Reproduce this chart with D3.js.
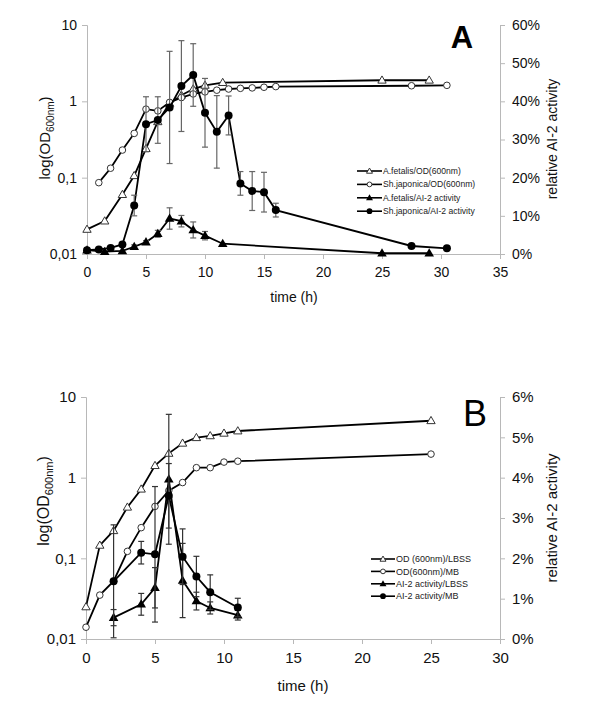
<!DOCTYPE html>
<html><head><meta charset="utf-8">
<script src="https://cdn.jsdelivr.net/npm/d3@7"></script>
<style>
body{margin:0;background:#fff;}
svg{display:block;font-family:"Liberation Sans",Arial,sans-serif;}
</style></head>
<body>
<svg id="chart" width="600" height="718"></svg>
<script>
// ---------- Panel A data ----------
const fetalisOD_t = [0,1.5,3,4,5,6,7,8,9,10,11.5,25,29];
const fetalisOD   = [0.021,0.027,0.06,0.106,0.24,0.54,0.94,1.2,1.45,1.62,1.76,1.89,1.89];
const japonicaOD_t = [1,2,3,4,5,6,7,8,9,10,11,12,13,14,15,16,27.5,30.5];
const japonicaOD   = [0.086,0.133,0.23,0.38,0.79,0.75,0.97,1.12,1.25,1.33,1.4,1.45,1.48,1.5,1.53,1.56,1.6,1.62];
const fetalisAI_t   = [0,1.5,3,4,5,6,7,8,9,10,11.5,25,29];
const fetalisAI     = [1.0,0.6,0.8,1.9,3.1,5.3,9.3,8.6,6.3,4.8,2.7,0.2,0.2];
const fetalisAI_err = [0,0,0,0.5,0.4,0.9,2.8,1.5,2.1,1.1,0,0,0];
const japonicaAI_t   = [0,1,2,3,4,5,6,7,8,9,10,11,12,13,14,15,16,27.5,30.5];
const japonicaAI     = [1.0,1.2,1.6,2.5,12.7,34,35.1,38.4,44,46.9,37,32,36.3,18.5,16.5,16.2,11.5,2.1,1.5];
const japonicaAI_err = [0,0,0,0,2.7,7.2,6.1,14.7,11.9,8.2,9,9.5,5.1,3.1,5.1,5.2,1.8,0,0];
const legendA = ["A.fetalis/OD(600nm)","Sh.japonica/OD(600nm)","A.fetalis/AI-2 activity","Sh.japonica/AI-2 activity"];

// ---------- Panel B data ----------
const lbssOD_t = [0,1,2,3,4,5,6,7,8,9,10,11,25];
const lbssOD   = [0.025,0.145,0.22,0.43,0.72,1.41,2.0,2.67,3.13,3.3,3.55,3.79,5.08];
const mbOD_t   = [0,1,2,3,4,5,6,7,8,9,10,11,25];
const mbOD     = [0.014,0.035,0.052,0.122,0.24,0.44,0.69,0.87,1.33,1.33,1.56,1.6,1.96];
const lbssAI_t   = [2,4,5,6,7,8,9,11];
const lbssAI     = [0.53,0.86,1.27,3.96,1.45,0.94,0.77,0.59];
const lbssAI_err = [0.2,0.27,0.5,1.61,0.92,0.22,0.15,0.12];
const mbAI_t   = [2,4,5,6,7,8,9,11];
const mbAI     = [1.43,2.14,2.1,3.55,2.04,1.55,1.16,0.78];
const mbAI_err = [1.4,0.28,1.68,0.8,0.69,0.5,0.43,0.23];
const legendB = ["OD (600nm)/LBSS","OD(600nm)/MB","AI-2 activity/LBSS","AI-2 activity/MB"];

// ---------- Axis tick labels ----------
const logTicks = [0.01,0.1,1,10];
const logTickLabels = ["0,01","0,1","1","10"];
const xTicksA = [0,5,10,15,20,25,30,35];
const xTicksB = [0,5,10,15,20,25,30];
const rightTicksA = [0,10,20,30,40,50,60];
const rightTicksB = [0,1,2,3,4,5,6];

const svg = d3.select("#chart");
const zip = (t,v,e) => t.map((x,i)=>({t:x,v:v[i],e:e?e[i]:0}));

function drawMarker(sel, cx, cy, m, k){
  k = k || 1;
  if(m==="openTri") sel.append("path").attr("d",d3.symbol(d3.symbolTriangle,30*k*k)()).attr("transform",`translate(${cx},${cy+0.5})`).attr("fill","#fff").attr("stroke","#333").attr("stroke-width",1);
  if(m==="openCirc") sel.append("circle").attr("cx",cx).attr("cy",cy).attr("r",3.3*k).attr("fill","#fff").attr("stroke","#333").attr("stroke-width",1);
  if(m==="fillTri") sel.append("path").attr("d",d3.symbol(d3.symbolTriangle,40*k*k)()).attr("transform",`translate(${cx},${cy+0.5})`).attr("fill","#000");
  if(m==="fillCirc") sel.append("circle").attr("cx",cx).attr("cy",cy).attr("r",4*k).attr("fill","#000");
}

function drawPanel(o){
  const g = svg.append("g");
  const x = d3.scaleLinear().domain(o.xDomain).range([o.left,o.right]);
  const yL = d3.scaleLog().domain([0.01,10]).range([o.bottom,o.top]);
  const yR = d3.scaleLinear().domain(o.rDomain).range([o.bottom,o.top]);
  const axisColor = "#b8b8b8";
  const fs = o.fs;

  const ax = g.append("g").attr("transform",`translate(0,${o.bottom})`)
    .call(d3.axisBottom(x).tickValues(o.xTicks).tickSize(5).tickPadding(8).tickFormat(d3.format("d")));
  const ayl = g.append("g").attr("transform",`translate(${o.left},0)`)
    .call(d3.axisLeft(yL).tickValues(logTicks).tickSize(5).tickPadding(5).tickFormat((d,i)=>logTickLabels[i]));
  const ayr = g.append("g").attr("transform",`translate(${o.right},0)`)
    .call(d3.axisRight(yR).tickValues(o.rTicks).tickSize(5).tickPadding(7).tickFormat(d=>d+"%"));
  [ax,ayl,ayr].forEach(a=>{
    a.selectAll("path.domain").attr("stroke",axisColor).attr("stroke-width",1);
    a.selectAll(".tick line").attr("stroke",axisColor);
    a.selectAll("text").attr("fill","#111").style("font-size",fs+"px").style("font-family",'"Liberation Sans",Arial,sans-serif');
  });

  g.append("text").attr("x",o.timeX).attr("y",o.timeY).attr("text-anchor","middle")
    .style("font-size",fs+"px").attr("fill","#111").text("time (h)");
  const yl = g.append("text").attr("transform",`translate(${o.left-37},${o.ylabY}) rotate(-90)`)
    .attr("text-anchor","middle").style("font-size",(fs+1)+"px").attr("fill","#111");
  yl.append("tspan").text("log(OD");
  yl.append("tspan").text("600nm").style("font-size",(fs-4)+"px").attr("dy",4);
  yl.append("tspan").text(")").attr("dy",-4);
  g.append("text").attr("transform",`translate(${o.right+57},${o.yrlabY}) rotate(-90)`)
    .attr("text-anchor","middle").style("font-size",fs+"px").attr("fill","#111").text("relative AI-2 activity");

  g.append("text").attr("x",o.letterX).attr("y",o.letterY).attr("text-anchor","middle")
    .style("font-size",o.letterSize+"px").style("font-weight",o.letterWeight).attr("fill","#000").text(o.letter);

  const lineL = d3.line().x(d=>x(d.t)).y(d=>yL(d.v));
  const lineR = d3.line().x(d=>x(d.t)).y(d=>yR(d.v));
  const errColor = o.errColor;

  function drawSeries(data, yScale, line, marker){
    g.append("path").datum(data).attr("d",line).attr("fill","none").attr("stroke","#000").attr("stroke-width",1.8);
    const eb = g.append("g").attr("stroke",errColor).attr("stroke-width",1.2);
    data.filter(d=>d.e>0).forEach(d=>{
      const cx=x(d.t), y1=yScale(d.v-d.e), y2=yScale(d.v+d.e);
      eb.append("line").attr("x1",cx).attr("x2",cx).attr("y1",y1).attr("y2",y2);
      eb.append("line").attr("x1",cx-3).attr("x2",cx+3).attr("y1",y1).attr("y2",y1);
      eb.append("line").attr("x1",cx-3).attr("x2",cx+3).attr("y1",y2).attr("y2",y2);
    });
    const mk = g.append("g");
    data.forEach(d=>drawMarker(mk, x(d.t), yScale(d.v), marker));
  }

  o.series.forEach(s=>{
    if(s.axis==="L") drawSeries(s.data,yL,lineL,s.marker);
    else drawSeries(s.data,yR,lineR,s.marker);
  });

  const lg = g.append("g");
  o.legend.forEach((name,i)=>{
    const ly = o.legY + i*o.legStep;
    lg.append("line").attr("x1",o.legX).attr("x2",o.legX+o.legLen).attr("y1",ly).attr("y2",ly).attr("stroke","#000").attr("stroke-width",1.6);
    drawMarker(lg, o.legX+o.legLen/2, ly, o.series[i].marker, 0.72);
    lg.append("text").attr("x",o.legX+o.legLen+1).attr("y",ly).attr("dy","0.35em")
      .style("font-size",o.legFs+"px").attr("fill","#222").text(name);
  });
}

drawPanel({
  left:87,right:500,top:25,bottom:254,xDomain:[0,35],xTicks:xTicksA,rDomain:[0,60],rTicks:rightTicksA,fs:14,
  timeX:294,timeY:302,ylabY:138,yrlabY:139,letter:"A",letterX:462,letterY:48,letterSize:31,letterWeight:"bold",
  errColor:"#666",
  series:[
    {data:zip(fetalisOD_t,fetalisOD),axis:"L",marker:"openTri"},
    {data:zip(japonicaOD_t,japonicaOD),axis:"L",marker:"openCirc"},
    {data:zip(fetalisAI_t,fetalisAI,fetalisAI_err),axis:"R",marker:"fillTri"},
    {data:zip(japonicaAI_t,japonicaAI,japonicaAI_err),axis:"R",marker:"fillCirc"}
  ],
  legend:legendA,legX:357,legY:171,legStep:13.4,legLen:25,legFs:8.6
});

drawPanel({
  left:86,right:500,top:397,bottom:639,xDomain:[0,30],xTicks:xTicksB,rDomain:[0,6],rTicks:rightTicksB,fs:15,
  timeX:303,timeY:691,ylabY:501,yrlabY:518,letter:"B",letterX:475,letterY:426,letterSize:36,letterWeight:"normal",
  errColor:"#333",
  series:[
    {data:zip(lbssOD_t,lbssOD),axis:"L",marker:"openTri"},
    {data:zip(mbOD_t,mbOD),axis:"L",marker:"openCirc"},
    {data:zip(lbssAI_t,lbssAI,lbssAI_err),axis:"R",marker:"fillTri"},
    {data:zip(mbAI_t,mbAI,mbAI_err),axis:"R",marker:"fillCirc"}
  ],
  legend:legendB,legX:371,legY:559,legStep:12.4,legLen:24,legFs:9
});
</script>
</body></html>
